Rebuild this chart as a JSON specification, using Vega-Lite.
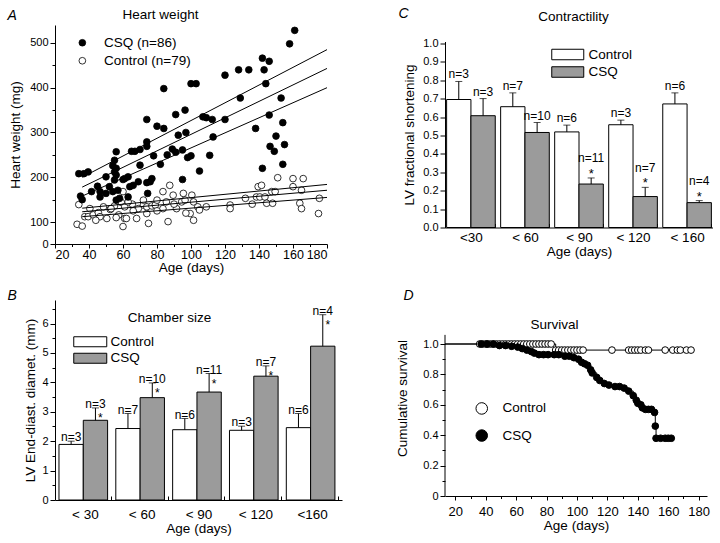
{
"$schema": "https://vega.github.io/schema/vega-lite/v6.json",
"background": "white",
"padding": {"left": 7, "top": 6, "right": 0, "bottom": 0},
"autosize": {"type": "pad"},
"columns": 2,
"spacing": {"row": 56, "column": 103},
"bounds": "flush",
"center": {"row": true, "column": false},
"resolve": {"scale": {"fill": "independent"}, "legend": {"fill": "independent"}},
"config": {
  "font": "Liberation Sans",
  "view": {"stroke": null},
  "axis": {"grid": false, "domainColor": "black", "tickColor": "black", "labelColor": "black", "titleColor": "black", "titleFontWeight": "normal", "titleFontSize": 13.5, "labelFontSize": 11, "labelFont": "Liberation Sans", "titleFont": "Liberation Sans", "tickSize": 5, "labelPadding": 2, "labelOverlap": false},
  "legend": {"labelFont": "Liberation Sans", "labelFontSize": 13.5, "labelColor": "black", "padding": 0}
},
"datasets": {
  "hw": [
    {"g":"Control","age":33,"hw":95},{"g":"Control","age":36,"hw":91},{"g":"Control","age":34,"hw":139},{"g":"Control","age":37.5,"hw":112},{"g":"Control","age":39.5,"hw":112},{"g":"Control","age":42.5,"hw":116},{"g":"Control","age":45.5,"hw":121},{"g":"Control","age":46.5,"hw":112},{"g":"Control","age":50.5,"hw":108},{"g":"Control","age":52.5,"hw":128},{"g":"Control","age":55,"hw":136},{"g":"Control","age":57,"hw":147},{"g":"Control","age":57.5,"hw":116},{"g":"Control","age":60,"hw":168},{"g":"Control","age":59,"hw":144},{"g":"Control","age":61,"hw":134},{"g":"Control","age":61,"hw":108},{"g":"Control","age":62,"hw":108},{"g":"Control","age":60,"hw":90},{"g":"Control","age":65.5,"hw":140},{"g":"Control","age":68,"hw":108},{"g":"Control","age":72,"hw":138},{"g":"Control","age":74,"hw":119},{"g":"Control","age":75,"hw":97},{"g":"Control","age":74,"hw":134},{"g":"Control","age":77,"hw":136},{"g":"Control","age":79,"hw":138},{"g":"Control","age":83.5,"hw":168},{"g":"Control","age":83.5,"hw":130},{"g":"Control","age":85.5,"hw":145},{"g":"Control","age":87.5,"hw":182},{"g":"Control","age":86.5,"hw":101},{"g":"Control","age":89.5,"hw":160},{"g":"Control","age":91.5,"hw":130},{"g":"Control","age":95.5,"hw":164},{"g":"Control","age":94.5,"hw":145},{"g":"Control","age":96.5,"hw":149},{"g":"Control","age":100.5,"hw":160},{"g":"Control","age":101.5,"hw":145},{"g":"Control","age":99.5,"hw":119},{"g":"Control","age":104,"hw":134},{"g":"Control","age":105,"hw":127},{"g":"Control","age":123,"hw":138},{"g":"Control","age":123,"hw":130},{"g":"Control","age":138.5,"hw":156},{"g":"Control","age":139.5,"hw":179},{"g":"Control","age":141.5,"hw":182},{"g":"Control","age":140.5,"hw":156},{"g":"Control","age":143.5,"hw":156},{"g":"Control","age":144.5,"hw":142},{"g":"Control","age":147.5,"hw":168},{"g":"Control","age":149.5,"hw":168},{"g":"Control","age":151,"hw":199},{"g":"Control","age":148,"hw":142},{"g":"Control","age":160,"hw":197},{"g":"Control","age":166,"hw":197},{"g":"Control","age":160,"hw":179},{"g":"Control","age":165,"hw":171},{"g":"Control","age":164,"hw":142},{"g":"Control","age":165,"hw":130},{"g":"Control","age":175,"hw":119},{"g":"Control","age":175.5,"hw":153},{"g":"Control","age":136,"hw":140},{"g":"Control","age":132,"hw":153},{"g":"Control","age":109,"hw":134},{"g":"Control","age":101.5,"hw":104},{"g":"Control","age":80,"hw":149},{"g":"Control","age":72,"hw":149},{"g":"Control","age":63,"hw":145},{"g":"Control","age":69,"hw":130},{"g":"Control","age":40.5,"hw":130},{"g":"Control","age":48.5,"hw":134},{"g":"Control","age":53,"hw":130},{"g":"Control","age":97,"hw":120},{"g":"Control","age":66,"hw":125},{"g":"Control","age":90,"hw":140},{"g":"Control","age":80,"hw":125},{"g":"Control","age":56,"hw":110},{"g":"Control","age":44,"hw":104},
    {"g":"CSQ","age":158,"hw":498},{"g":"CSQ","age":161,"hw":528},{"g":"CSQ","age":120,"hw":428},{"g":"CSQ","age":128,"hw":440},{"g":"CSQ","age":134,"hw":440},{"g":"CSQ","age":142,"hw":466},{"g":"CSQ","age":146,"hw":459},{"g":"CSQ","age":143,"hw":440},{"g":"CSQ","age":144,"hw":409},{"g":"CSQ","age":142,"hw":220},{"g":"CSQ","age":129,"hw":377},{"g":"CSQ","age":138,"hw":309},{"g":"CSQ","age":153,"hw":377},{"g":"CSQ","age":154,"hw":322},{"g":"CSQ","age":146,"hw":339},{"g":"CSQ","age":150,"hw":292},{"g":"CSQ","age":146.5,"hw":269},{"g":"CSQ","age":149,"hw":258},{"g":"CSQ","age":154,"hw":229},{"g":"CSQ","age":155,"hw":273},{"g":"CSQ","age":84,"hw":398},{"g":"CSQ","age":100,"hw":409},{"g":"CSQ","age":103,"hw":409},{"g":"CSQ","age":74,"hw":329},{"g":"CSQ","age":80,"hw":314},{"g":"CSQ","age":84,"hw":309},{"g":"CSQ","age":91,"hw":340},{"g":"CSQ","age":96.5,"hw":350},{"g":"CSQ","age":92.5,"hw":294},{"g":"CSQ","age":97,"hw":300},{"g":"CSQ","age":109,"hw":333},{"g":"CSQ","age":112.5,"hw":329},{"g":"CSQ","age":120,"hw":329},{"g":"CSQ","age":113,"hw":290},{"g":"CSQ","age":111,"hw":249},{"g":"CSQ","age":105,"hw":214},{"g":"CSQ","age":100,"hw":248},{"g":"CSQ","age":98,"hw":244},{"g":"CSQ","age":95,"hw":261},{"g":"CSQ","age":89,"hw":263},{"g":"CSQ","age":91,"hw":256},{"g":"CSQ","age":95,"hw":195},{"g":"CSQ","age":82,"hw":229},{"g":"CSQ","age":78,"hw":248},{"g":"CSQ","age":74,"hw":279},{"g":"CSQ","age":74,"hw":269},{"g":"CSQ","age":77,"hw":197},{"g":"CSQ","age":76,"hw":190},{"g":"CSQ","age":74,"hw":188},{"g":"CSQ","age":74.5,"hw":164},{"g":"CSQ","age":69,"hw":190},{"g":"CSQ","age":70,"hw":227},{"g":"CSQ","age":65,"hw":258},{"g":"CSQ","age":67,"hw":258},{"g":"CSQ","age":64,"hw":179},{"g":"CSQ","age":66,"hw":182},{"g":"CSQ","age":61,"hw":197},{"g":"CSQ","age":63,"hw":201},{"g":"CSQ","age":58,"hw":153},{"g":"CSQ","age":55,"hw":212},{"g":"CSQ","age":56,"hw":205},{"g":"CSQ","age":56,"hw":220},{"g":"CSQ","age":55,"hw":194},{"g":"CSQ","age":55,"hw":238},{"g":"CSQ","age":56,"hw":257},{"g":"CSQ","age":54,"hw":168},{"g":"CSQ","age":52,"hw":179},{"g":"CSQ","age":50,"hw":164},{"g":"CSQ","age":46.5,"hw":168},{"g":"CSQ","age":46.5,"hw":156},{"g":"CSQ","age":41.5,"hw":168},{"g":"CSQ","age":34,"hw":208},{"g":"CSQ","age":37,"hw":208},{"g":"CSQ","age":39.5,"hw":212},{"g":"CSQ","age":35,"hw":158},{"g":"CSQ","age":36,"hw":150},{"g":"CSQ","age":56,"hw":149},{"g":"CSQ","age":57,"hw":171},{"g":"CSQ","age":50,"hw":201},{"g":"CSQ","age":63,"hw":156},{"g":"CSQ","age":54,"hw":226},{"g":"CSQ","age":86,"hw":250},{"g":"CSQ","age":107,"hw":335},{"g":"CSQ","age":70,"hw":262},{"g":"CSQ","age":60,"hw":195},{"g":"CSQ","age":45,"hw":180}
  ],
  "fit": [
    {"g":"CSQ","k":"fit","age":36,"hw":178},{"g":"CSQ","k":"fit","age":180,"hw":443},
    {"g":"CSQ","k":"upper","age":36,"hw":200},{"g":"CSQ","k":"upper","age":180,"hw":485},
    {"g":"CSQ","k":"lower","age":36,"hw":158},{"g":"CSQ","k":"lower","age":180,"hw":400},
    {"g":"Control","k":"fit","age":36,"hw":123},{"g":"Control","k":"fit","age":180,"hw":171},
    {"g":"Control","k":"upper","age":36,"hw":131},{"g":"Control","k":"upper","age":180,"hw":184},
    {"g":"Control","k":"lower","age":36,"hw":112},{"g":"Control","k":"lower","age":180,"hw":155}
  ],
  "fs": [
    {"age":"<30","group":"Control","value":0.695,"err":0.793,"n":"n=3","star":""},
    {"age":"<30","group":"CSQ","value":0.607,"err":0.70,"n":"n=3","star":""},
    {"age":"< 60","group":"Control","value":0.656,"err":0.731,"n":"n=7","star":""},
    {"age":"< 60","group":"CSQ","value":0.516,"err":0.570,"n":"n=10","star":""},
    {"age":"< 90","group":"Control","value":0.519,"err":0.556,"n":"n=6","star":""},
    {"age":"< 90","group":"CSQ","value":0.236,"err":0.269,"n":"n=11","star":"*"},
    {"age":"< 120","group":"Control","value":0.558,"err":0.583,"n":"n=3","star":""},
    {"age":"< 120","group":"CSQ","value":0.168,"err":0.218,"n":"n=7","star":"*"},
    {"age":"< 160","group":"Control","value":0.671,"err":0.731,"n":"n=6","star":""},
    {"age":"< 160","group":"CSQ","value":0.135,"err":0.146,"n":"n=4","star":"*"}
  ],
  "ed": [
    {"age":"< 30","group":"Control","value":1.89,"err":2.0,"n":"n=3","star":""},
    {"age":"< 30","group":"CSQ","value":2.71,"err":3.13,"n":"n=3","star":"*"},
    {"age":"< 60","group":"Control","value":2.43,"err":2.94,"n":"n=7","star":""},
    {"age":"< 60","group":"CSQ","value":3.48,"err":3.98,"n":"n=10","star":"*"},
    {"age":"< 90","group":"Control","value":2.39,"err":2.77,"n":"n=6","star":""},
    {"age":"< 90","group":"CSQ","value":3.67,"err":4.30,"n":"n=11","star":"*"},
    {"age":"< 120","group":"Control","value":2.37,"err":2.51,"n":"n=3","star":""},
    {"age":"< 120","group":"CSQ","value":4.21,"err":4.56,"n":"n=7","star":"*"},
    {"age":"<160","group":"Control","value":2.46,"err":2.94,"n":"n=6","star":""},
    {"age":"<160","group":"CSQ","value":5.23,"err":6.30,"n":"n=4","star":"*"}
  ],
  "surv": [
    {"g":"Control","day":0,"s":1.0},{"g":"Control","day":36,"s":1.0},{"g":"Control","day":38,"s":1.0},{"g":"Control","day":40,"s":1.0},{"g":"Control","day":41,"s":1.0},{"g":"Control","day":43,"s":1.0},{"g":"Control","day":45,"s":1.0},{"g":"Control","day":47,"s":1.0},{"g":"Control","day":49,"s":1.0},{"g":"Control","day":51,"s":1.0},{"g":"Control","day":53,"s":1.0},{"g":"Control","day":55,"s":1.0},{"g":"Control","day":57,"s":1.0},{"g":"Control","day":59,"s":1.0},{"g":"Control","day":61,"s":1.0},{"g":"Control","day":63,"s":1.0},{"g":"Control","day":65,"s":1.0},{"g":"Control","day":67,"s":1.0},{"g":"Control","day":69,"s":1.0},{"g":"Control","day":71,"s":1.0},{"g":"Control","day":73,"s":1.0},{"g":"Control","day":75,"s":1.0},{"g":"Control","day":77,"s":1.0},{"g":"Control","day":79,"s":1.0},{"g":"Control","day":81,"s":1.0},{"g":"Control","day":83,"s":1.0},
    {"g":"Control","day":86,"s":0.96},{"g":"Control","day":88,"s":0.96},{"g":"Control","day":90,"s":0.96},{"g":"Control","day":92,"s":0.96},{"g":"Control","day":94,"s":0.96},{"g":"Control","day":96,"s":0.96},{"g":"Control","day":98,"s":0.96},{"g":"Control","day":100,"s":0.96},{"g":"Control","day":102,"s":0.96},{"g":"Control","day":104,"s":0.96},{"g":"Control","day":123,"s":0.96},{"g":"Control","day":134,"s":0.96},{"g":"Control","day":136,"s":0.96},{"g":"Control","day":138,"s":0.96},{"g":"Control","day":140,"s":0.96},{"g":"Control","day":142,"s":0.96},{"g":"Control","day":145,"s":0.96},{"g":"Control","day":147,"s":0.96},{"g":"Control","day":158,"s":0.96},{"g":"Control","day":163,"s":0.96},{"g":"Control","day":166,"s":0.96},{"g":"Control","day":168,"s":0.96},{"g":"Control","day":172,"s":0.96},{"g":"Control","day":175,"s":0.96},
    {"g":"CSQ","day":0,"s":1.0},{"g":"CSQ","day":37,"s":1.0},{"g":"CSQ","day":41,"s":1.0},{"g":"CSQ","day":45,"s":1.0},{"g":"CSQ","day":49,"s":0.99},{"g":"CSQ","day":53,"s":0.99},{"g":"CSQ","day":57,"s":0.985},{"g":"CSQ","day":61,"s":0.98},{"g":"CSQ","day":64,"s":0.97},{"g":"CSQ","day":67,"s":0.96},{"g":"CSQ","day":70,"s":0.95},{"g":"CSQ","day":72,"s":0.94},{"g":"CSQ","day":75,"s":0.93},{"g":"CSQ","day":78,"s":0.93},{"g":"CSQ","day":81,"s":0.93},{"g":"CSQ","day":85,"s":0.93},{"g":"CSQ","day":88,"s":0.93},{"g":"CSQ","day":92,"s":0.92},{"g":"CSQ","day":95,"s":0.92},{"g":"CSQ","day":98,"s":0.91},{"g":"CSQ","day":101,"s":0.90},{"g":"CSQ","day":103,"s":0.88},{"g":"CSQ","day":105,"s":0.87},{"g":"CSQ","day":107,"s":0.86},{"g":"CSQ","day":109,"s":0.83},{"g":"CSQ","day":110,"s":0.81},{"g":"CSQ","day":113,"s":0.78},{"g":"CSQ","day":115,"s":0.76},{"g":"CSQ","day":118,"s":0.74},{"g":"CSQ","day":121,"s":0.73},{"g":"CSQ","day":125,"s":0.72},{"g":"CSQ","day":128,"s":0.72},{"g":"CSQ","day":131,"s":0.71},{"g":"CSQ","day":134,"s":0.69},{"g":"CSQ","day":137,"s":0.66},{"g":"CSQ","day":139,"s":0.63},{"g":"CSQ","day":140,"s":0.61},{"g":"CSQ","day":142,"s":0.60},{"g":"CSQ","day":143,"s":0.58},{"g":"CSQ","day":145,"s":0.57},{"g":"CSQ","day":147,"s":0.57},{"g":"CSQ","day":149,"s":0.57},{"g":"CSQ","day":151,"s":0.55},{"g":"CSQ","day":151.5,"s":0.46},{"g":"CSQ","day":152,"s":0.38},{"g":"CSQ","day":155,"s":0.38},{"g":"CSQ","day":158,"s":0.38},{"g":"CSQ","day":160,"s":0.38},{"g":"CSQ","day":162,"s":0.38}
  ]
},
"concat": [
  {
    "width": 272, "height": 219,
    "resolve": {"axis": {"x": "independent", "y": "independent"}},
    "layer": [
      {"data": {"name": "hw"},
       "mark": {"type": "point", "filled": true, "stroke": "black", "strokeWidth": 0.8, "size": 45, "opacity": 1},
       "encoding": {
         "x": {"field": "age", "type": "quantitative", "scale": {"domain": [20, 180], "nice": false, "zero": false}, "axis": {"orient": "bottom", "values": [20,40,60,80,100,120,140,160,180], "labelOverlap": false, "title": "Age (days)", "labelFontSize": 12.5, "tickSize": 4, "labelPadding": 0, "titlePadding": 0}},
         "y": {"field": "hw", "type": "quantitative", "scale": {"domain": [51, 540], "nice": false, "zero": false}, "axis": {"orient": "left", "values": [51,100,200,300,400,500], "labelOverlap": false, "labelExpr": "datum.value < 60 ? '0' : datum.label", "title": "Heart weight (mg)", "titlePadding": 7}},
         "fill": {"field": "g", "type": "nominal", "scale": {"domain": ["CSQ","Control"], "range": ["black","white"]}, "legend": {"orient": "none", "legendX": 20.6, "legendY": 11, "title": null, "labelExpr": "datum.label == 'CSQ' ? 'CSQ (n=86)' : 'Control (n=79)'", "symbolType": "circle", "symbolSize": 45, "symbolStrokeColor": "black", "symbolStrokeWidth": 0.8, "rowPadding": 3, "labelOffset": 15}}
       }},
      {"data": {"name": "fit"},
       "transform": [{"filter": "datum.g == 'Control'"}],
       "mark": {"type": "line", "color": "black", "strokeWidth": 1},
       "encoding": {
         "x": {"field": "age", "type": "quantitative", "axis": {"orient": "bottom", "values": [30,50,70,90,110,130,150,170], "labels": false, "domain": false, "tickSize": 2.5, "title": null}},
         "y": {"field": "hw", "type": "quantitative", "axis": {"orient": "left", "values": [150,250,350,450], "labels": false, "domain": false, "tickSize": 3, "title": null}},
         "detail": {"field": "k"}
       }},
      {"data": {"name": "fit"},
       "transform": [{"filter": "datum.g == 'CSQ'"}],
       "mark": {"type": "line", "color": "black", "strokeWidth": 1},
       "encoding": {
         "x": {"field": "age", "type": "quantitative", "axis": {"orient": "top", "domain": false, "ticks": false, "labels": false, "title": "Heart weight", "titleX": 105, "titleY": -11, "titleAlign": "center", "titleBaseline": "middle", "titleAngle": 0, "titleFontSize": 13.5}},
         "y": {"field": "hw", "type": "quantitative", "axis": {"orient": "right", "domain": false, "ticks": false, "labels": false, "title": "A", "titleX": -320, "titleY": -10, "titleAlign": "left", "titleBaseline": "middle", "titleAngle": 0, "titleFontSize": 14, "titleFontStyle": "italic"}},
         "detail": {"field": "k"}
       }}
    ]
  },
  {
    "width": 268, "height": 186,
    "data": {"name": "fs"},
    "resolve": {"axis": {"x": "independent", "y": "independent"}},
    "encoding": {
      "x": {"field": "age", "type": "nominal", "sort": ["<30","< 60","< 90","< 120","< 160"], "scale": {"paddingInner": 0.1, "paddingOuter": 0.03}, "axis": {"orient": "bottom", "title": "Age (days)", "labelAngle": 0, "labelFontSize": 13.5, "tickBand": "extent", "tickSize": -4, "labelPadding": 7.4, "titlePadding": 0}},
      "xOffset": {"field": "group", "type": "nominal", "sort": ["Control","CSQ"]}
    },
    "layer": [
      {"layer": [
        {"mark": {"type": "bar", "stroke": "black", "strokeWidth": 1},
         "encoding": {
           "y": {"field": "value", "type": "quantitative", "scale": {"domain": [0, 1.01], "nice": false}, "axis": {"orient": "left", "values": [0,0.1,0.2,0.3,0.4,0.5,0.6,0.7,0.8,0.9,1.0], "labelOverlap": false, "format": ".1f", "title": "LV fractional shortening", "titlePadding": 6}},
           "fill": {"field": "group", "type": "nominal", "scale": {"domain": ["Control","CSQ"], "range": ["white","#9b9b9b"]}, "legend": {"orient": "none", "legendX": 116, "legendY": 6.25, "title": null, "symbolType": "M-3.2,-1.05H3.2V1.05H-3.2Z", "symbolSize": 100, "symbolStrokeColor": "black", "symbolStrokeWidth": 1, "rowPadding": 2.5, "labelOffset": 14}}
         }},
        {"mark": {"type": "tick", "color": "black", "thickness": 1, "size": 7},
         "encoding": {"y": {"field": "err", "type": "quantitative", "axis": {"orient": "left", "values": [0,0.1,0.2,0.3,0.4,0.5,0.6,0.7,0.8,0.9,1.0], "labelOverlap": false, "format": ".1f", "title": "LV fractional shortening", "titlePadding": 6}}}},
        {"transform": [{"filter": "datum.star == ''"}],
         "mark": {"type": "text", "baseline": "bottom", "dy": 0, "fontSize": 12, "color": "black"},
         "encoding": {"y": {"field": "err", "type": "quantitative", "axis": {"orient": "left", "values": [0,0.1,0.2,0.3,0.4,0.5,0.6,0.7,0.8,0.9,1.0], "labelOverlap": false, "format": ".1f", "title": "LV fractional shortening", "titlePadding": 6}}, "text": {"field": "n"}}},
        {"transform": [{"filter": "datum.star != ''"}],
         "mark": {"type": "text", "baseline": "bottom", "dy": -12.5, "fontSize": 12, "color": "black"},
         "encoding": {"y": {"field": "err", "type": "quantitative", "axis": {"orient": "left", "values": [0,0.1,0.2,0.3,0.4,0.5,0.6,0.7,0.8,0.9,1.0], "labelOverlap": false, "format": ".1f", "title": "LV fractional shortening", "titlePadding": 6}}, "text": {"field": "n"}}},
        {"transform": [{"filter": "datum.star != ''"}],
         "mark": {"type": "text", "baseline": "bottom", "dy": 3, "fontSize": 13, "color": "black"},
         "encoding": {"y": {"field": "err", "type": "quantitative", "axis": {"orient": "left", "values": [0,0.1,0.2,0.3,0.4,0.5,0.6,0.7,0.8,0.9,1.0], "labelOverlap": false, "format": ".1f", "title": "LV fractional shortening", "titlePadding": 6}}, "text": {"field": "star"}}}
      ]},
      {"mark": {"type": "rule", "color": "black", "strokeWidth": 1},
       "encoding": {
         "x": {"field": "age", "type": "nominal", "sort": ["<30","< 60","< 90","< 120","< 160"], "axis": {"orient": "top", "domain": false, "ticks": false, "labels": false, "title": "Contractility", "titleX": 128, "titleY": -25.5, "titleAlign": "center", "titleBaseline": "middle", "titleAngle": 0, "titleFontSize": 13.5}},
         "y": {"field": "value", "type": "quantitative", "axis": {"orient": "right", "domain": false, "ticks": false, "labels": false, "title": "C", "titleX": -315, "titleY": -28.5, "titleAlign": "left", "titleBaseline": "middle", "titleAngle": 0, "titleFontSize": 14, "titleFontStyle": "italic"}},
         "y2": {"field": "err"}
       }}
    ]
  },
  {
    "width": 287, "height": 200,
    "data": {"name": "ed"},
    "resolve": {"axis": {"x": "independent", "y": "independent"}},
    "encoding": {
      "x": {"field": "age", "type": "nominal", "sort": ["< 30","< 60","< 90","< 120","<160"], "scale": {"paddingInner": 0.09, "paddingOuter": 0.07}, "axis": {"orient": "bottom", "title": "Age (days)", "labelAngle": 0, "labelFontSize": 13.5, "tickBand": "extent", "tickSize": -4, "labelPadding": 11.4, "titlePadding": 1}},
      "xOffset": {"field": "group", "type": "nominal", "sort": ["Control","CSQ"]}
    },
    "layer": [
      {"layer": [
        {"mark": {"type": "bar", "stroke": "black", "strokeWidth": 1},
         "encoding": {
           "y": {"field": "value", "type": "quantitative", "scale": {"domain": [0, 6.8], "nice": false}, "axis": {"orient": "left", "values": [0,1,2,3,4,5,6], "labelOverlap": false, "title": "LV End-diast. diamet. (mm)", "titlePadding": 4}},
           "fill": {"field": "group", "type": "nominal", "scale": {"domain": ["Control","CSQ"], "range": ["white","#9b9b9b"]}, "legend": {"orient": "none", "legendX": 28.5, "legendY": 35, "title": null, "symbolType": "M-3.3,-1H3.3V1H-3.3Z", "symbolSize": 100, "symbolStrokeColor": "black", "symbolStrokeWidth": 1, "rowPadding": 1.5, "labelOffset": 13.5}}
         }},
        {"mark": {"type": "tick", "color": "black", "thickness": 1, "size": 7},
         "encoding": {"y": {"field": "err", "type": "quantitative", "axis": {"orient": "left", "values": [0,1,2,3,4,5,6], "labelOverlap": false, "title": "LV End-diast. diamet. (mm)", "titlePadding": 4}}}},
        {"mark": {"type": "text", "baseline": "bottom", "dy": 3, "fontSize": 12, "color": "black"},
         "encoding": {"y": {"field": "err", "type": "quantitative", "axis": {"orient": "left", "values": [0,1,2,3,4,5,6], "labelOverlap": false, "title": "LV End-diast. diamet. (mm)", "titlePadding": 4}}, "text": {"field": "n"}}}
      ]},
      {"mark": {"type": "text", "baseline": "top", "dx": 5, "dy": 5, "fontSize": 12, "color": "black"},
       "encoding": {
         "x": {"field": "age", "type": "nominal", "sort": ["< 30","< 60","< 90","< 120","<160"], "axis": null},
         "y": {"field": "err", "type": "quantitative", "axis": {"orient": "left", "values": [0.5,1.5,2.5,3.5,4.5,5.5,6.5], "labels": false, "domain": false, "tickSize": 3, "title": null}},
         "text": {"field": "star"}
       }},
      {"mark": {"type": "rule", "color": "black", "strokeWidth": 1},
       "encoding": {
         "x": {"field": "age", "type": "nominal", "sort": ["< 30","< 60","< 90","< 120","<160"], "axis": {"orient": "top", "domain": false, "ticks": false, "labels": false, "title": "Chamber size", "titleX": 114, "titleY": 17, "titleAlign": "center", "titleBaseline": "middle", "titleAngle": 0, "titleFontSize": 13.5}},
         "y": {"field": "value", "type": "quantitative", "axis": {"orient": "right", "domain": false, "ticks": false, "labels": false, "title": "B", "titleX": -335, "titleY": -5, "titleAlign": "left", "titleBaseline": "middle", "titleAngle": 0, "titleFontSize": 14, "titleFontStyle": "italic"}},
         "y2": {"field": "err"}
       }}
    ]
  },
  {
    "width": 262, "height": 196,
    "resolve": {"axis": {"x": "independent", "y": "independent"}},
    "layer": [
      {"data": {"name": "surv"},
       "mark": {"type": "line", "interpolate": "step-after", "color": "black", "strokeWidth": 1, "clip": true},
       "encoding": {
         "x": {"field": "day", "type": "quantitative", "scale": {"domain": [13.2, 185.5], "nice": false, "zero": false}, "axis": {"orient": "bottom", "values": [20,40,60,80,100,120,140,160,180], "labelOverlap": false, "title": "Age (days)", "labelFontSize": 13, "tickSize": 4, "labelPadding": 5, "titlePadding": 0}},
         "y": {"field": "s", "type": "quantitative", "scale": {"domain": [0, 1.2895], "nice": false}, "axis": {"orient": "left", "values": [0,0.2,0.4,0.6,0.8,1.0], "labelOverlap": false, "labelExpr": "datum.value == 0 ? '0' : format(datum.value, '.1f')", "domain": false, "title": "Cumulative survival", "titlePadding": 13}},
         "detail": {"field": "g"}
       }},
      {"data": {"name": "surv"},
       "transform": [{"filter": "datum.day > 0"}],
       "mark": {"type": "point", "filled": true, "stroke": "black", "strokeWidth": 1, "size": 45, "opacity": 1},
       "encoding": {
         "x": {"field": "day", "type": "quantitative", "axis": {"orient": "bottom", "values": [30,50,70,90,110,130,150,170], "labels": false, "domain": false, "tickSize": 2.5, "title": null}},
         "y": {"field": "s", "type": "quantitative", "axis": {"orient": "left", "values": [0.1,0.3,0.5,0.7,0.9], "labels": false, "domain": false, "tickSize": 3, "title": null}},
         "fill": {"field": "g", "type": "nominal", "scale": {"domain": ["Control","CSQ"], "range": ["white","black"]}, "legend": {"orient": "none", "legendX": 30, "legendY": 101.7, "title": null, "symbolType": "circle", "symbolSize": 133, "symbolStrokeColor": "black", "symbolStrokeWidth": 1, "rowPadding": 10.1, "labelOffset": 14}}
       }},
      {"data": {"values": [{}]},
       "mark": {"type": "rule", "color": "black", "strokeWidth": 1},
       "encoding": {
         "x": {"datum": 13.2, "type": "quantitative", "axis": {"orient": "top", "domain": false, "ticks": false, "labels": false, "title": "Survival", "titleX": 109, "titleY": 24, "titleAlign": "center", "titleBaseline": "middle", "titleAngle": 0, "titleFontSize": 13.5}},
         "y": {"datum": 0, "type": "quantitative", "axis": {"orient": "right", "domain": false, "ticks": false, "labels": false, "title": "D", "titleX": -304, "titleY": -5, "titleAlign": "left", "titleBaseline": "middle", "titleAngle": 0, "titleFontSize": 14, "titleFontStyle": "italic"}},
         "y2": {"datum": 1.06}
       }}
    ]
  }
]
}
